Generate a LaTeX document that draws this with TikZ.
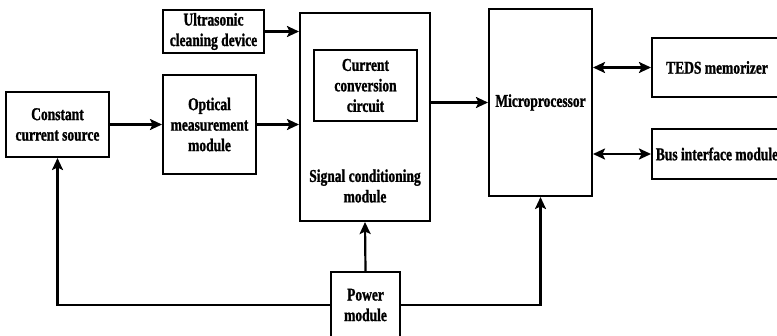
\documentclass[tikz,border=0pt]{standalone}
\usepackage{fontspec}
\setmainfont{Liberation Serif}[FakeStretch=0.75, BoldFeatures={FakeBold=1.2}]
\usetikzlibrary{arrows.meta}
\begin{document}
\begin{tikzpicture}[x=1pt,y=-1pt,
  blk/.style={draw, line width=2pt, inner sep=0pt, align=center,
    font=\fontsize{18}{20.5}\selectfont\bfseries},
  lbl/.style={inner sep=0pt, align=center, font=\fontsize{18}{20.5}\selectfont\bfseries},
  wire/.style={line width=2.2pt},
  tip/.tip={Stealth[length=12pt,width=11pt,inset=2.5pt]},
  flow/.style={wire, -tip},
  both/.style={wire, tip-tip}]
\useasboundingbox (0,0) rectangle (777,335);
\clip (0,0) rectangle (777,335);
\fill[white] (0,0) rectangle (777,335);

% blocks
\node[blk, minimum width=101pt, minimum height=43pt] (ultra) at (213.5,31.5) {Ultrasonic\\cleaning device};
\node[blk, minimum width=103pt, minimum height=65pt] (ccs) at (57.5,124.5) {Constant\\current source};
\node[blk, minimum width=93pt, minimum height=99pt] (opt) at (209.5,124.5) {Optical\\measurement\\module};
\node[blk, minimum width=130pt, minimum height=208pt] (sig) at (365,117) {};
\node[blk, minimum width=103pt, minimum height=71pt] (conv) at (365.5,85.5) {Current\\conversion\\circuit};
\node[lbl] (siglbl) at (365,186) {Signal conditioning\\module};
\node[blk, minimum width=103pt, minimum height=187pt] (mic) at (540.5,102.5) {Microprocessor};
\node[blk, minimum width=130pt, minimum height=59pt] (teds) at (717,67.5) {TEDS memorizer};
\node[blk, minimum width=130pt, minimum height=50pt] (bus) at (717,154) {Bus interface module};
\node[blk, minimum width=69pt, minimum height=66pt] (pow) at (365.5,305) {Power\\module};

% signal path
\draw[flow] (ultra.east) -- (ultra.east -| sig.west);
\draw[flow] (ccs.east) -- (ccs.east -| opt.west);
\draw[flow] (opt.east) -- (opt.east -| sig.west);
\draw[flow] (mic.west -| sig.east) -- (mic.west);
\draw[both] (teds.west -| mic.east) -- (teds.west);
\draw[both] (bus.west -| mic.east) -- (bus.west);

% power distribution
\draw[flow] (pow.north) -- (sig.south);
\draw[flow] (pow.west) -| (ccs.south);
\draw[flow] (pow.east) -| (mic.south);
\end{tikzpicture}
\end{document}
